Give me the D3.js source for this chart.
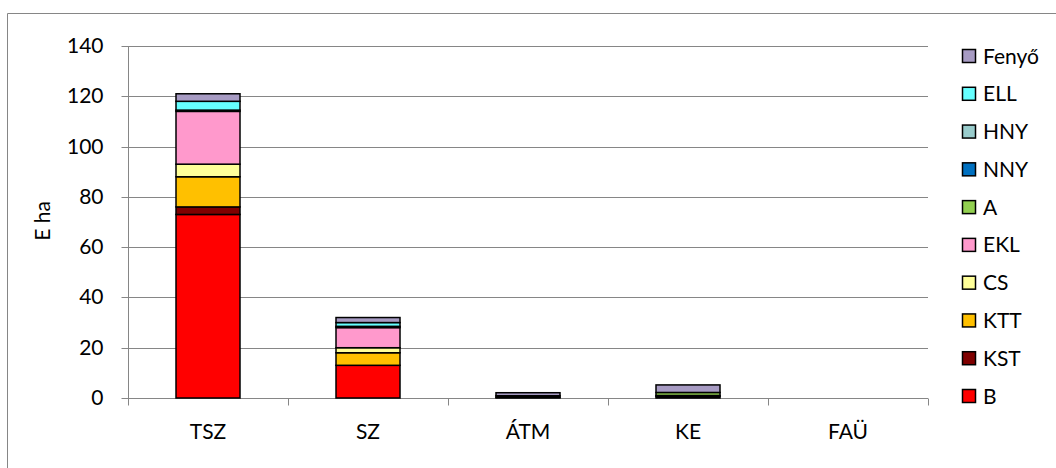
<!DOCTYPE html>
<html><head><meta charset="utf-8">
<script src="https://cdn.jsdelivr.net/npm/d3@7"></script>
<style>body{margin:0;background:#fff}svg{display:block;font-family:Lato,"Open Sans",sans-serif}</style>
</head><body><svg id="c" width="1056" height="468"></svg>
<script>
const categories = ["TSZ","SZ","ÁTM","KE","FAÜ"];
const seriesNames = ["B","KST","KTT","CS","EKL","A","NNY","HNY","ELL","Fenyő"];
const seriesColors = ["#FF0000","#7F0000","#FFC000","#FFFF99","#FF99CC","#92D050","#0070C0","#99CCCC","#66FFFF","#A79BC3"];
const B     = [73, 13, 0.3, 0.6, 0];
const KST   = [3, 0, 0, 0.4, 0];
const KTT   = [12, 5, 0, 0, 0];
const CS    = [5, 2, 0, 0, 0];
const EKL   = [21, 8, 0.6, 0, 0];
const A     = [0, 0, 0, 1.2, 0];
const NNY   = [0, 0, 0, 0, 0];
const HNY   = [0.5, 0.5, 0, 0, 0];
const ELL   = [3.5, 1.5, 0, 0, 0];
const Fenyo = [3, 2, 1.2, 3, 0];
const yTicks = [0,20,40,60,80,100,120,140];

const seriesValues = [B,KST,KTT,CS,EKL,A,NNY,HNY,ELL,Fenyo];
const rows = categories.map((c,i)=>{const r={cat:c}; seriesNames.forEach((s,j)=>r[s]=seriesValues[j][i]); return r;});
const stack = d3.stack().keys(seriesNames)(rows);

const svg = d3.select("#c");
const L=128, R=928, T=46, Bt=398;
const FS = 21;
const xb = d3.scaleBand().domain(categories).range([L,R]);
const y = d3.scaleLinear().domain([0,140]).range([Bt,T]);

// outer border
svg.append("path").attr("d","M7.5,468 V13.5 H1056").attr("fill","none").attr("stroke","#868686").attr("stroke-width",1);

// gridlines
svg.append("g").selectAll("line").data(yTicks.filter(d=>d>0)).join("line")
  .attr("x1",L).attr("x2",R).attr("y1",d=>Math.round(y(d))+0.5).attr("y2",d=>Math.round(y(d))+0.5)
  .attr("stroke","#868686").attr("stroke-width",1);

// y axis
const ya = svg.append("g").attr("transform",`translate(${L+0.5},0)`)
  .call(d3.axisLeft(y).tickValues(yTicks).tickSize(7).tickPadding(18));
ya.select(".domain").attr("stroke","#868686").attr("d",`M0,${Bt+0.5}V${T}`);
ya.selectAll(".tick line").attr("stroke","#868686");
ya.selectAll(".tick").attr("transform",d=>`translate(0,${Math.round(y(d))+0.5})`);
ya.selectAll("text").attr("font-size",FS).attr("fill","#000").attr("font-family","Lato,'Open Sans',sans-serif");

// x axis
const xa = svg.append("g").attr("transform",`translate(0,${Bt+0.5})`);
xa.append("line").attr("x1",L).attr("x2",R).attr("stroke","#868686");
xa.selectAll("line.t").data(d3.range(categories.length+1)).join("line").attr("class","t")
  .attr("x1",i=>Math.round(L+i*xb.step())+0.5).attr("x2",i=>Math.round(L+i*xb.step())+0.5)
  .attr("y1",0).attr("y2",7).attr("stroke","#868686");
xa.selectAll("text").data(categories).join("text")
  .attr("x",d=>xb(d)+xb.bandwidth()/2).attr("y",40).attr("text-anchor","middle")
  .attr("font-size",FS).attr("fill","#000").text(d=>d);

// bars
const bw = 64;
svg.append("g").selectAll("g").data(stack).join("g")
  .attr("fill",(d,i)=>seriesColors[i])
  .selectAll("rect").data(d=>d.filter(p=>p[1]-p[0]>0)).join("rect")
  .attr("x",p=>xb(p.data.cat)+xb.bandwidth()/2-bw/2)
  .attr("width",bw)
  .attr("y",p=>y(p[1]))
  .attr("height",p=>y(p[0])-y(p[1]))
  .attr("stroke","#000").attr("stroke-width",1.5);

// y title
svg.append("text").attr("transform","translate(50,221) rotate(-90)").attr("text-anchor","middle")
  .attr("font-size",FS).attr("fill","#000").text("E ha");

// legend
const ly = d3.scalePoint().domain(seriesNames.slice().reverse()).range([56,396]);
const lg = svg.append("g").selectAll("g").data(seriesNames).join("g")
  .attr("transform",d=>`translate(962,${ly(d)})`);
lg.append("rect").attr("x",0.5).attr("y",-6.5).attr("width",13).attr("height",13)
  .attr("fill",(d,i)=>seriesColors[i]).attr("stroke","#000").attr("stroke-width",1.5);
lg.append("text").attr("x",21).attr("y",7.5).attr("font-size",FS).attr("fill","#000").text(d=>d);
</script></body></html>
